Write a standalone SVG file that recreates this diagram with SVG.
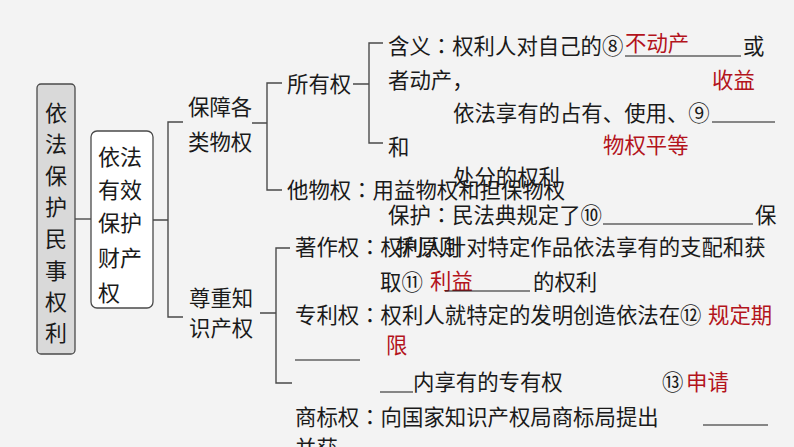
<svg xmlns="http://www.w3.org/2000/svg" width="794" height="447" viewBox="0 0 794 447">
<style>
text{font-family:"Noto Sans CJK SC","Noto Sans",sans-serif;font-size:21.4px;fill:#1a1a1a}
.k{font-family:"Noto Sans CJK JP","Noto Sans CJK SC",sans-serif}
.r{fill:#b3141c}
.v{font-size:22px}
.c{fill:none;stroke:#4a4a4a;stroke-width:1.4}
.u{fill:none;stroke:#1a1a1a;stroke-width:1.2}
</style>
<rect width="794" height="447" fill="#f3f3f3"/>
<g id="connectors">
<path class="c" d="M75 219H91"/>
<path class="c" d="M153 220H168M183 122H168V317H183"/>
<path class="c" d="M252 123H267M282 83H267V190H282"/>
<path class="c" d="M353 84H369M383 43H369V143H383"/>
<path class="c" d="M260 313H276M290 248H276V383H292"/>
</g>
<g id="n-root">
<rect x="37" y="84" width="38" height="270" rx="4" fill="#d9d9d9" stroke="#4a4a4a" stroke-width="1.3"/>
<text class="v" x="45" y="121">依</text>
<text class="v" x="45" y="152">法</text>
<text class="v" x="45" y="184">保</text>
<text class="v" x="45" y="215">护</text>
<text class="v" x="45" y="247">民</text>
<text class="v" x="45" y="279">事</text>
<text class="v" x="45" y="310">权</text>
<text class="v" x="45" y="341">利</text>
</g>
<g id="n-property">
<rect x="91" y="131" width="62" height="177" rx="6" fill="#ffffff" stroke="#4a4a4a" stroke-width="1.3"/>
<text class="v" x="98" y="165">依法</text>
<text class="v" x="98" y="198">有效</text>
<text class="v" x="98" y="231">保护</text>
<text class="v" x="98" y="266">财产</text>
<text class="v" x="98" y="301">权</text>
</g>
<g id="n-real">
<text x="188" y="115">保障各</text>
<text x="188" y="150">类物权</text>
</g>
<g id="n-ip">
<text x="189" y="306">尊重知</text>
<text x="189" y="336">识产权</text>
</g>
<g id="n-ownership">
<text x="287" y="92">所有权</text>
</g>
<g id="n-meaning">
<text x="388" y="54">含义<tspan class="k">：</tspan>权利人对自己的⑧</text>
<text class="r" x="625" y="51">不动产</text>
<path class="u" d="M625 56H741"/>
<text x="743" y="54">或</text>
<text x="388" y="88">者动产，</text>
<text class="r" x="712" y="88">收益</text>
<text x="453" y="121">依法享有的占有、使用、⑨</text>
<path class="u" d="M712 122H775"/>
<text x="388" y="155">和</text>
<text class="r" x="603" y="153">物权平等</text>
<text x="453" y="185">处分的权利</text>
</g>
<g id="n-other">
<text x="287" y="198">他物权<tspan class="k">：</tspan>用益物权和担保物权</text>
</g>
<g id="n-protect">
<text x="388" y="223">保护<tspan class="k">：</tspan>民法典规定了⑩</text>
<path class="u" d="M603 224H753"/>
<text x="755" y="223">保</text>
<text x="396" y="255">护原则</text>
</g>
<g id="n-copyright">
<text x="295" y="255">著作权<tspan class="k">：</tspan>权利人针对特定作品依法享有的支配和获</text>
<text x="380" y="290">取⑪</text>
<text class="r" x="430" y="289">利益</text>
<path class="u" d="M445 291H530"/>
<text x="533" y="290">的权利</text>
</g>
<g id="n-patent">
<text x="295" y="323">专利权<tspan class="k">：</tspan>权利人就特定的发明创造依法在⑫</text>
<text class="r" x="708" y="323">规定期</text>
<text class="r" x="386" y="353">限</text>
<path class="u" d="M295 360H360"/>
<path class="u" d="M380 392H413"/>
<text x="413" y="390">内享有的专有权</text>
<text x="662" y="390">⑬</text>
<text class="r" x="686" y="390">申请</text>
</g>
<g id="n-trademark">
<text x="295" y="425">商标权<tspan class="k">：</tspan>向国家知识产权局商标局提出</text>
<path class="u" d="M703 425H768"/>
<text x="295" y="456">并获</text>
</g>
</svg>
